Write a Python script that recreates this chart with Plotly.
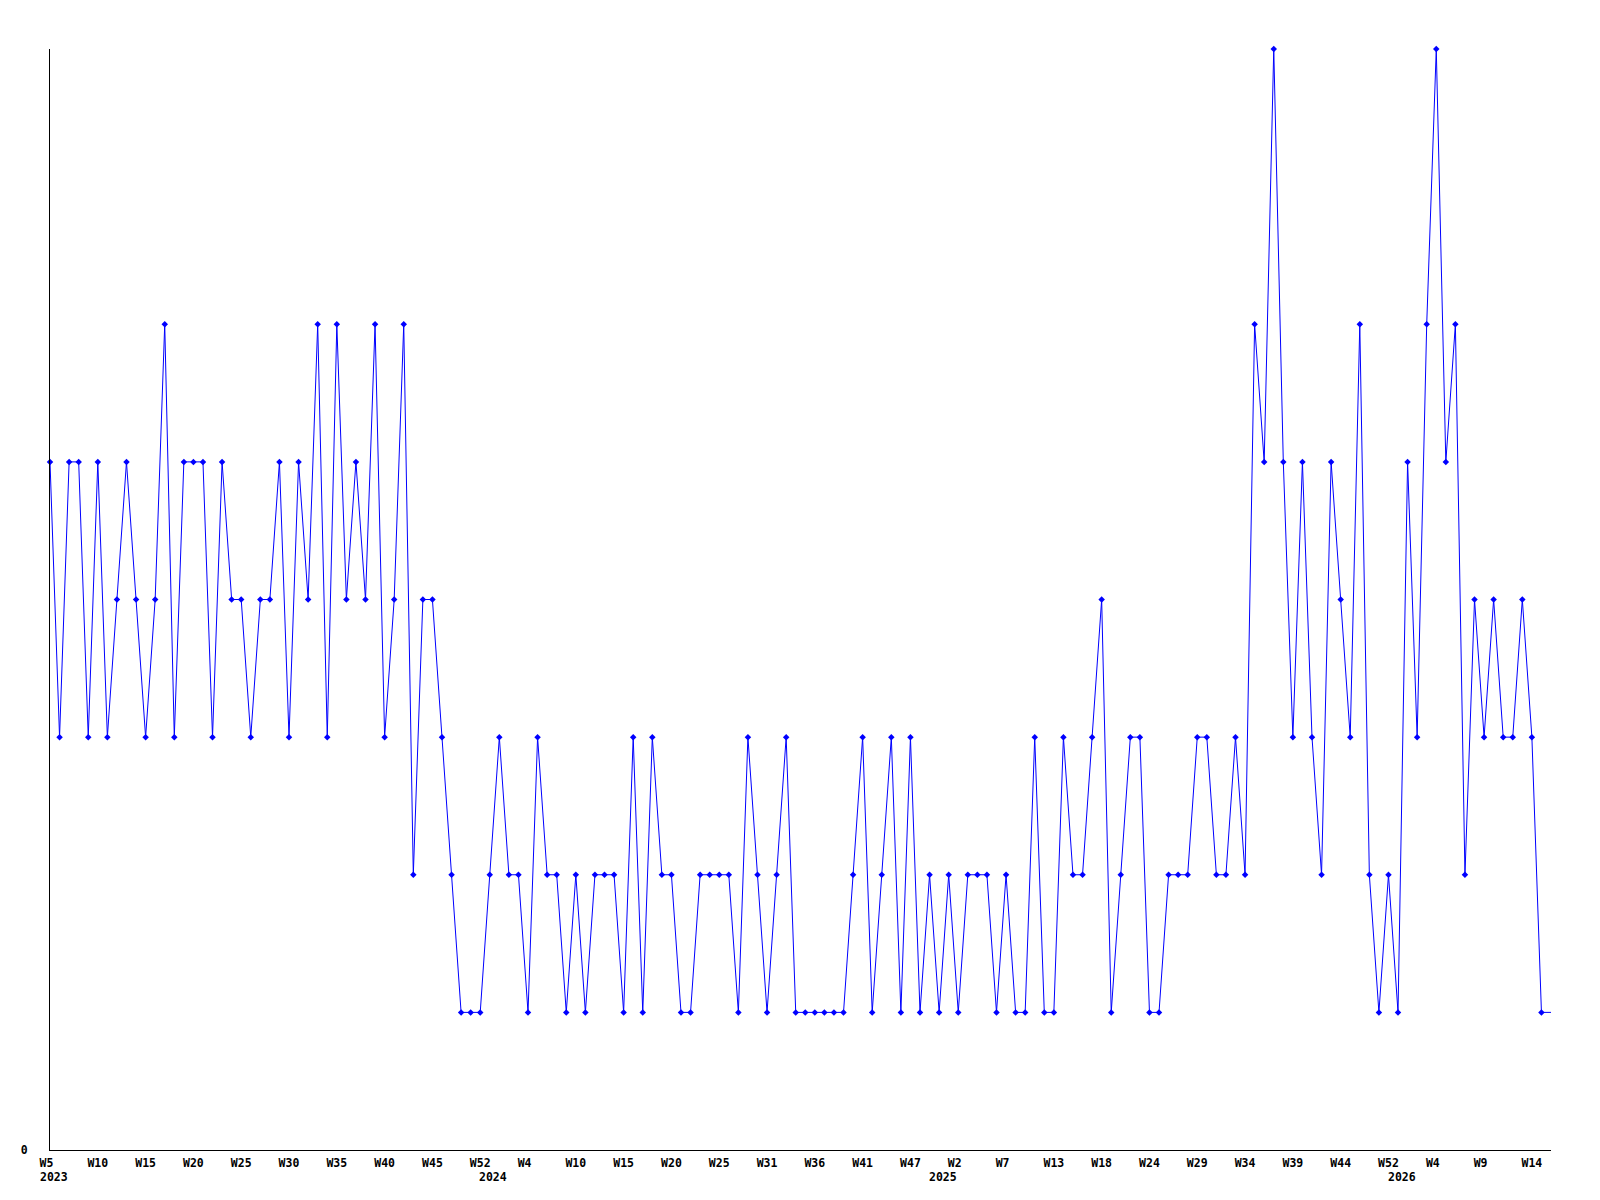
import plotly.graph_objects as go

# Weekly values (one per point, left to right)
values = [
    5, 3, 5, 5, 3, 5, 3, 4, 5, 4, 3, 4, 6, 3, 5, 5, 5, 3, 5, 4, 4, 3, 4, 4, 5, 3, 5,
    4, 6, 3, 6, 4, 5, 4, 6, 3, 4, 6, 2, 4, 4, 3, 2, 1, 1, 1, 2, 3, 2, 2, 1, 3, 2,
    2, 1, 2, 1, 2, 2, 2, 1, 3, 1, 3, 2, 2, 1, 1, 2, 2, 2, 2, 1, 3, 2, 1, 2, 3, 1,
    1, 1, 1, 1, 1, 2, 3, 1, 2, 3, 1, 3, 1, 2, 1, 2, 1, 2, 2, 2, 1, 2, 1, 1, 3, 1,
    1, 3, 2, 2, 3, 4, 1, 2, 3, 3, 1, 1, 2, 2, 2, 3, 3, 2, 2, 3, 2,
    6, 5, 8, 5, 3, 5, 3, 2, 5, 4, 3, 6, 2, 1, 2, 1, 5, 3, 6, 8, 5, 6, 2, 4, 3, 4,
    3, 3, 4, 3, 1,
]

# Week tick labels (every 5th point)
week_labels = ["W5", "W10", "W15", "W20", "W25", "W30", "W35", "W40", "W45", "W52",
               "W4", "W10", "W15", "W20", "W25", "W31", "W36", "W41", "W47", "W2",
               "W7", "W13", "W18", "W24", "W29", "W34", "W39", "W44", "W52", "W4",
               "W9", "W14"]
week_label_step = 5

# Year labels and the index of the first point of each year
year_labels = ["2023", "2024", "2025", "2026"]
year_start_index = [0, 46, 93, 141]

x_end = len(values)  # the line runs on to the right edge of the plot

idx = list(range(len(values)))
tickvals = [i * week_label_step for i in range(len(week_labels))]
ticktext = [t.ljust(3, "\u00a0") for t in week_labels]

FONT = dict(family="DejaVu Sans Mono", size=11.5, color="black", weight="bold")

fig = go.Figure()
fig.add_trace(go.Scatter(
    x=[idx[-1], x_end], y=[values[-1], values[-1]],
    mode="lines", line=dict(color="#0000ff", width=1),
    hoverinfo="skip", showlegend=False,
))
fig.add_trace(go.Scatter(
    x=idx, y=values, mode="lines+markers",
    line=dict(color="#0000ff", width=1),
    marker=dict(symbol="diamond", size=5, color="#0000ff", line=dict(width=0)),
    cliponaxis=False, showlegend=False,
))

annotations = []
for lab, xi in zip(year_labels, year_start_index):
    annotations.append(dict(
        x=xi, y=0, xref="x", yref="paper", text=lab, showarrow=False,
        xanchor="left", yanchor="middle", xshift=-12.5, yshift=-27,
        font=FONT,
    ))

fig.update_layout(
    width=1584, height=1184,
    margin=dict(l=42, r=41, t=41, b=42),
    paper_bgcolor="white", plot_bgcolor="white",
    showlegend=False,
    annotations=annotations,
    xaxis=dict(
        range=[0, x_end], showgrid=False, zeroline=False,
        showline=True, linecolor="black", linewidth=1,
        tickmode="array", tickvals=tickvals, ticktext=ticktext,
        ticks="", tickfont=FONT, ticklabelstandoff=2,
    ),
    yaxis=dict(
        range=[0, 8], showgrid=False, zeroline=False,
        showline=True, linecolor="black", linewidth=1,
        tickmode="array", tickvals=[0], ticktext=["0"],
        ticks="", tickfont=FONT, ticklabelstandoff=19,
    ),
)

fig.write_html("out.html")
